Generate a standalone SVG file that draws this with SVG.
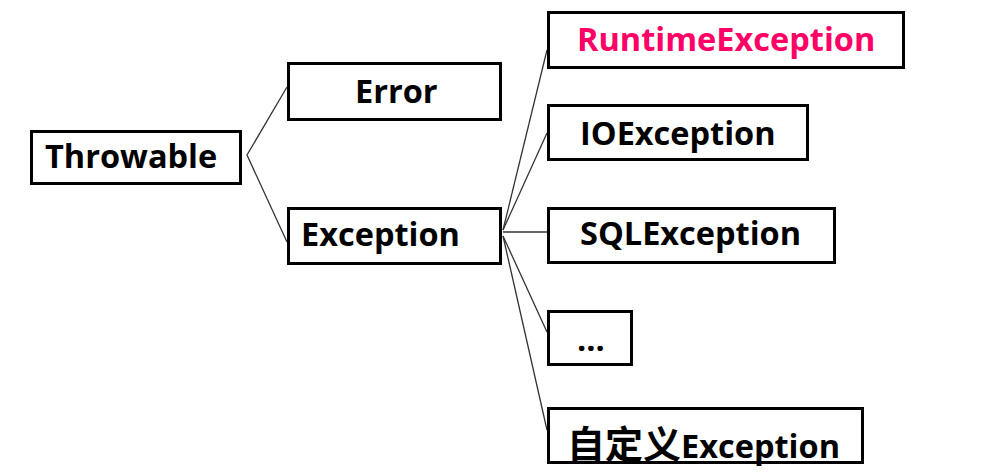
<svg xmlns="http://www.w3.org/2000/svg" width="998" height="476" viewBox="0 0 998 476">
<style>
.box{fill:#fff;stroke:#000;stroke-width:3}
.t{font-family:"Open Sans","Liberation Sans",sans-serif;font-weight:bold;font-size:32.5px;fill:#000}
.cjk{font-family:"Noto Sans CJK SC","Open Sans",sans-serif;font-weight:bold;font-size:38px}
.c{fill:none;stroke:#333;stroke-width:1.3}
</style>
<rect width="998" height="476" fill="#fff"/>
<g id="connectors">
<polyline class="c" points="287,87 247,155 287,242"/>
<line class="c" x1="503" y1="230" x2="547" y2="50"/>
<line class="c" x1="503" y1="230" x2="547" y2="133"/>
<line class="c" x1="503" y1="232" x2="547" y2="232"/>
<line class="c" x1="503" y1="236" x2="547" y2="332"/>
<line class="c" x1="503" y1="236" x2="547" y2="430"/>
</g>
<g id="throwable">
<rect class="box" x="31.5" y="131.5" width="209" height="52"/>
<text class="t" x="45" y="168">Throwable</text>
</g>
<g id="error">
<rect class="box" x="288.5" y="63.5" width="212" height="56"/>
<text class="t" x="355" y="103">Error</text>
</g>
<g id="exception">
<rect class="box" x="288.5" y="208.5" width="212" height="55"/>
<text class="t" x="301" y="246">Exception</text>
</g>
<g id="runtime">
<rect class="box" x="548.5" y="12.5" width="355" height="55"/>
<text class="t" x="577" y="51" style="fill:#ff0066">RuntimeException</text>
</g>
<g id="io">
<rect class="box" x="548.5" y="105.5" width="259" height="54"/>
<text class="t" x="580" y="145">IOException</text>
</g>
<g id="sql">
<rect class="box" x="548.5" y="208.5" width="286" height="54"/>
<text class="t" x="580" y="245">SQLException</text>
</g>
<g id="more">
<rect class="box" x="548.5" y="311.5" width="83" height="53"/>
<text class="t" x="577" y="351">...</text>
</g>
<g id="custom">
<rect class="box" x="548.5" y="408.5" width="314" height="54"/>
<text class="t" x="567" y="458"><tspan class="cjk">自定义</tspan>Exception</text>
</g>
</svg>
